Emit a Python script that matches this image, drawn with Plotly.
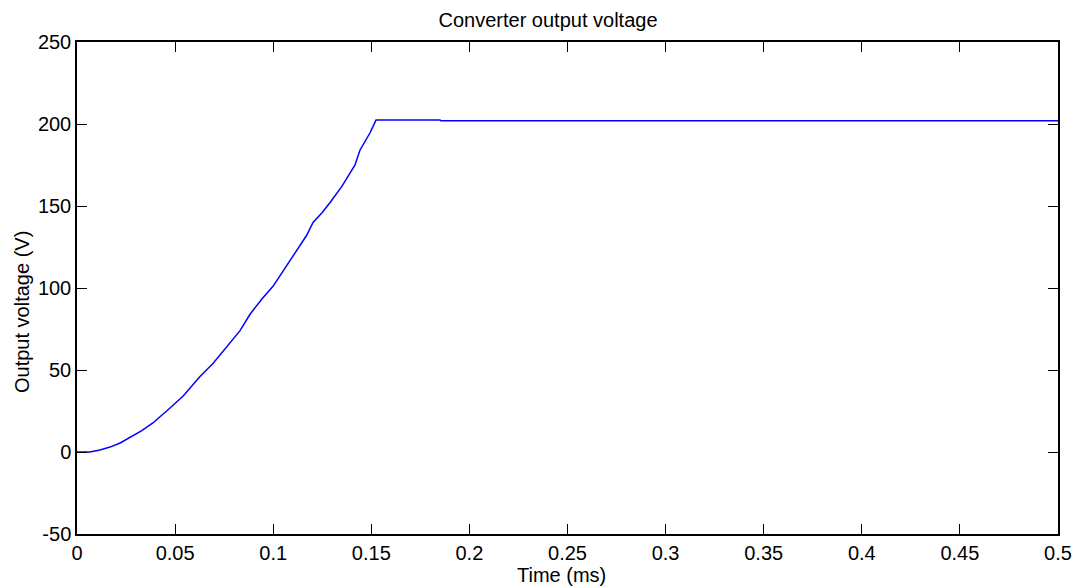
import plotly.graph_objects as go

# Time (ms) and output voltage (V)
time_ms = [0.0, 0.0066, 0.0117, 0.0168, 0.0220, 0.0270, 0.0330, 0.0387, 0.0430, 0.0474,
           0.0540, 0.0612, 0.0627, 0.0693, 0.0760, 0.0831, 0.0882, 0.0940, 0.0999,
           0.1060, 0.1121, 0.1170, 0.1203, 0.1250, 0.1289, 0.1350, 0.1417, 0.1442,
           0.1493, 0.1524, 0.1850, 0.1855, 0.5]
voltage = [0.0, 0.0, 1.2, 3.0, 5.5, 9.0, 13.0, 17.7, 22.0, 26.8,
           34.0, 43.9, 46.0, 54.0, 64.0, 74.0, 84.0, 93.0, 101.0,
           112.0, 123.0, 132.0, 140.0, 146.0, 152.0, 162.0, 175.0, 184.0,
           194.5, 202.4, 202.4, 202.0, 202.0]

x_ticks = [0, 0.05, 0.1, 0.15, 0.2, 0.25, 0.3, 0.35, 0.4, 0.45, 0.5]
x_tick_text = ["0", "0.05", "0.1", "0.15", "0.2", "0.25", "0.3", "0.35", "0.4", "0.45", "0.5"]
y_ticks = [-50, 0, 50, 100, 150, 200, 250]
y_tick_text = ["-50", "0", "50", "100", "150", "200", "250"]

W, H = 1075, 588
L, R, T, B = 77, 17, 42, 54
PW, PH = W - L - R, H - T - B

fig = go.Figure()
fig.add_trace(go.Scatter(x=time_ms, y=voltage, mode="lines",
                         line=dict(color="#0000ff", width=1.5), showlegend=False))

ff = "Liberation Sans, Arial, sans-serif"
font = dict(family=ff, size=20, color="black")

axis_common = dict(showgrid=False, zeroline=False, showline=True, linecolor="black",
                   linewidth=1.5, mirror="ticks", ticks="inside", ticklen=10,
                   tickcolor="black", tickwidth=1, tickfont=font, automargin=False)

fig.update_layout(
    width=W, height=H,
    margin=dict(l=L, r=R, t=T, b=B),
    paper_bgcolor="white", plot_bgcolor="white",
    title=dict(text="Converter output voltage", xref="paper", x=(548 - L) / PW, xanchor="center",
               yref="container", y=1 - 20 / H, yanchor="middle",
               font=dict(family=ff, size=20, color="black")),
    xaxis=dict(range=[0, 0.5], tickvals=x_ticks, ticktext=x_tick_text, **axis_common),
    yaxis=dict(range=[-50, 250], tickvals=y_ticks, ticktext=y_tick_text, **axis_common),
    annotations=[
        dict(text="Time (ms)", xref="paper", yref="paper",
             x=(561 - L) / PW, y=-(587 - T - PH) / PH, xanchor="center", yanchor="bottom",
             showarrow=False, font=font, borderpad=0),
        dict(text="Output voltage (V)", xref="paper", yref="paper", textangle=-90,
             x=-(L - 22) / PW, y=1 - (312 - T) / PH, xanchor="center", yanchor="middle",
             showarrow=False, font=font),
    ],
)

fig.write_html("out.html")
